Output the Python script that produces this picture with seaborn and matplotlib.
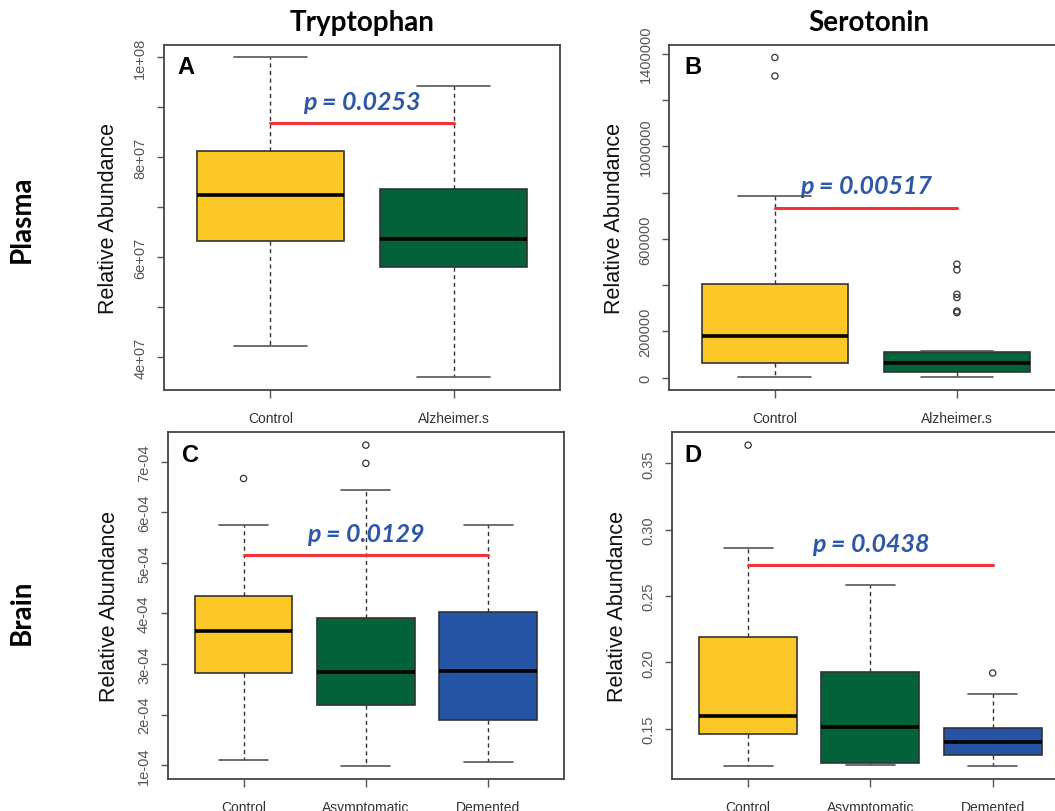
import numpy as np
import pandas as pd
import seaborn as sns
import matplotlib.pyplot as plt

# categories
groups_plasma = ["Control", "Alzheimer.s"]
groups_brain = ["Control", "Asymptomatic", "Demented"]

# box summaries: lower whisker, Q1, median, Q3, upper whisker
trp_plasma_control = [4.23e7, 6.32e7, 7.25e7, 8.13e7, 1.00e8]
trp_plasma_alz = [3.60e7, 5.80e7, 6.37e7, 7.36e7, 9.43e7]

ser_plasma_control = [2.6e3, 6.5e4, 1.80e5, 4.04e5, 7.86e5]
ser_plasma_alz = [2.6e3, 2.6e4, 6.5e4, 1.126e5, 1.152e5]
ser_plasma_control_out = [1.303e6, 1.383e6]
ser_plasma_alz_out = [2.815e5, 2.884e5, 3.464e5, 3.607e5, 4.66e5, 4.906e5]

trp_brain_control = [1.105e-4, 2.82e-4, 3.66e-4, 4.34e-4, 5.75e-4]
trp_brain_asym = [0.98e-4, 2.19e-4, 2.84e-4, 3.91e-4, 6.45e-4]
trp_brain_dem = [1.06e-4, 1.90e-4, 2.87e-4, 4.02e-4, 5.75e-4]
trp_brain_control_out = [6.67e-4]
trp_brain_asym_out = [6.97e-4, 7.33e-4]

ser_brain_control = [0.1218, 0.146, 0.1596, 0.2193, 0.2865]
ser_brain_asym = [0.1228, 0.1245, 0.151, 0.193, 0.2585]
ser_brain_dem = [0.1218, 0.1301, 0.1397, 0.1508, 0.1762]
ser_brain_control_out = [0.3637]
ser_brain_dem_out = [0.192]

# p-values, bracket heights and label heights
p_labels = ["p = 0.0253", "p = 0.00517", "p = 0.0129", "p = 0.0438"]
p_line_y = [8.68e7, 7.33e5, 5.16e-4, 0.2733]
p_text_y = [9.11e7, 8.30e5, 5.59e-4, 0.2897]

# y ticks
a_ticks = [4e7, 5e7, 6e7, 7e7, 8e7, 9e7, 1e8]
a_ticklabels = ["4e+07", "", "6e+07", "", "8e+07", "", "1e+08"]
b_ticks = [0, 2e5, 4e5, 6e5, 8e5, 1e6, 1.2e6, 1.4e6]
b_ticklabels = ["0", "200000", "", "600000", "", "1000000", "", "1400000"]
c_ticks = [1e-4, 2e-4, 3e-4, 4e-4, 5e-4, 6e-4, 7e-4]
c_ticklabels = ["1e-04", "2e-04", "3e-04", "4e-04", "5e-04", "6e-04", "7e-04"]
d_ticks = [0.15, 0.20, 0.25, 0.30, 0.35]
d_ticklabels = ["0.15", "0.20", "0.25", "0.30", "0.35"]

colors = ["#FCC828", "#036239", "#2554A4"]

sns.set_theme(style="white")
plt.rcParams["font.family"] = ["Liberation Sans", "DejaVu Sans"]

W, H = 1055, 812
fig = plt.figure(figsize=(W / 100, H / 100), dpi=100)


def make_ax(left, top, right, bottom):
    return fig.add_axes([left / W, 1 - bottom / H, (right - left) / W, (bottom - top) / H])


def panel(ax, groups, boxes, outliers, ticks, ticklabels, letter, k, letter_x):
    n = len(groups)
    df = pd.DataFrame({
        "group": np.repeat(groups, 5),
        "value": np.concatenate(boxes),
    })
    sns.boxplot(
        data=df, x="group", y="value", hue="group", order=groups,
        palette=colors[:n], saturation=1, legend=False, width=0.8, whis=(0, 100),
        showfliers=False, linecolor="#333333", linewidth=1.2,
        medianprops={"color": "black", "linewidth": 2.6},
        whiskerprops={"color": "#333333", "linewidth": 1, "linestyle": (0, (3, 2.5))},
        capprops={"color": "#555555", "linewidth": 1.2},
        ax=ax,
    )
    out = pd.DataFrame([(g, v) for g, vals in outliers.items() for v in vals],
                       columns=["group", "value"])
    if len(out):
        before = len(ax.collections)
        sns.stripplot(data=out, x="group", y="value", order=groups, jitter=False,
                      color="white", edgecolor="#333333", linewidth=0.9, size=4.5,
                      ax=ax)
        for coll in ax.collections[before:]:
            coll.set_facecolor("none")
            coll.set_zorder(5)

    # R style limits: 4% padding
    allv = np.concatenate(boxes + [np.array(v) for v in outliers.values()])
    lo, hi = allv.min(), allv.max()
    pad = 0.04 * (hi - lo)
    ax.set_ylim(lo - pad, hi + pad)
    ax.set_xlim(-0.5 - 0.04 * n, n - 0.5 + 0.04 * n)

    ax.set_yticks(ticks)
    ax.set_yticklabels(ticklabels)
    for t in ax.get_yticklabels():
        t.set_rotation(90)
        t.set_va("center")
    ax.tick_params(axis="y", labelsize=10.5, labelcolor="#555555", length=5,
                   width=1, color="#555555", pad=7, left=True)
    ax.tick_params(axis="x", labelsize=10, labelcolor="#333333", length=6,
                   width=1, color="#555555", pad=9, bottom=True)
    ax.set_xlabel("")
    ax.set_ylabel("Relative Abundance", fontsize=15.5, color="#111111", va="center")
    for s in ax.spines.values():
        s.set_color("#444444")
        s.set_linewidth(1.3)

    ax.text(letter_x, 0.97, letter, transform=ax.transAxes, fontsize=17,
            fontweight="bold", va="top", ha="left", color="black")
    ax.plot([0, n - 1], [p_line_y[k], p_line_y[k]], color="#F0353A", lw=2.2, zorder=4)
    ax.text((n - 1) / 2, p_text_y[k], p_labels[k], ha="center", va="center",
            fontsize=18, fontweight="bold", fontstyle="italic", color="#2E57A8",
            family=["Lato", "DejaVu Sans"], zorder=6)


ax_a = make_ax(164, 45.7, 560, 391)
panel(ax_a, groups_plasma, [trp_plasma_control, trp_plasma_alz], {},
      a_ticks, a_ticklabels, "A", 0, 0.035)
ax_a.yaxis.set_label_coords((108 - 164) / 396, 0.5)

ax_b = make_ax(669.3, 45.7, 1062.5, 391)
panel(ax_b, groups_plasma, [ser_plasma_control, ser_plasma_alz],
      {"Control": ser_plasma_control_out, "Alzheimer.s": ser_plasma_alz_out},
      b_ticks, b_ticklabels, "B", 1, 0.038)
ax_b.yaxis.set_label_coords((615 - 669.3) / 393, 0.5)

ax_c = make_ax(167.7, 433.3, 564, 780)
panel(ax_c, groups_brain, [trp_brain_control, trp_brain_asym, trp_brain_dem],
      {"Control": trp_brain_control_out, "Asymptomatic": trp_brain_asym_out},
      c_ticks, c_ticklabels, "C", 2, 0.035)
ax_c.yaxis.set_label_coords((110 - 167.7) / 396, 0.5)

ax_d = make_ax(672.3, 433.3, 1068.5, 780)
panel(ax_d, groups_brain, [ser_brain_control, ser_brain_asym, ser_brain_dem],
      {"Control": ser_brain_control_out, "Demented": ser_brain_dem_out},
      d_ticks, d_ticklabels, "D", 3, 0.03)
ax_d.yaxis.set_label_coords((617.7 - 672.3) / 396, 0.5)

# column and row headings
head = dict(fontsize=20, fontweight="bold", family=["Lato", "DejaVu Sans"],
            ha="center", va="center", color="black")
fig.text(362.5 / W, 1 - 23 / H, "Tryptophan", **head)
fig.text(869 / W, 1 - 23 / H, "Serotonin", **head)
fig.text(22 / W, 1 - 219 / H, "Plasma", rotation=90, **head)
fig.text(22 / W, 1 - 612 / H, "Brain", rotation=90, **head)

fig.savefig("out.png", dpi=100)
